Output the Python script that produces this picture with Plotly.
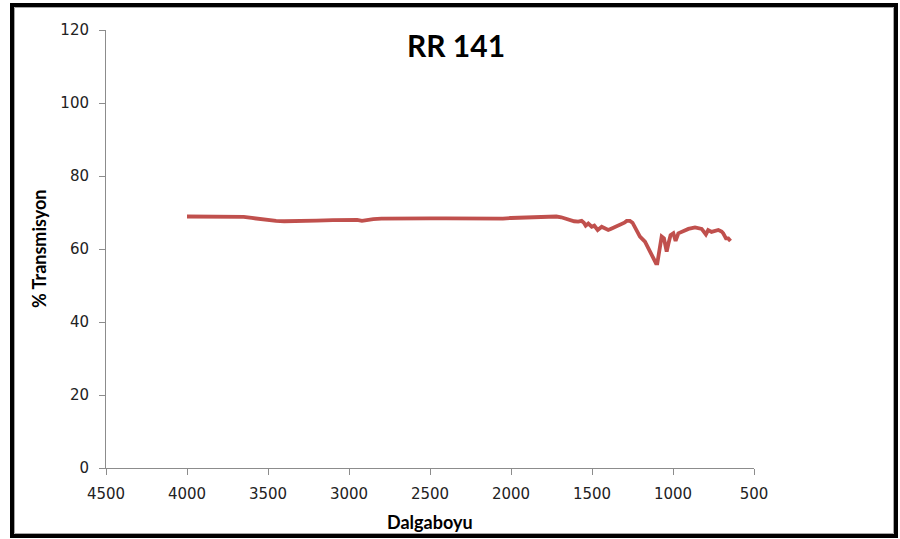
import plotly.graph_objects as go

# FTIR spectrum of sample RR 141
wavenumber = [
    4000, 3900, 3800, 3700, 3650, 3600, 3550, 3500, 3450, 3400,
    3350, 3300, 3200, 3100, 3000, 2950, 2920, 2890, 2850, 2800,
    2700, 2600, 2500, 2400, 2300, 2200, 2150, 2100, 2050, 2000,
    1950, 1900, 1850, 1800, 1750, 1720, 1690, 1660, 1636, 1610,
    1585, 1564, 1550, 1539, 1523, 1502, 1486, 1465, 1440, 1420,
    1400, 1385, 1369, 1338, 1317, 1300, 1286, 1266, 1250, 1235,
    1220, 1204, 1173, 1142, 1120, 1105, 1097, 1085, 1070, 1056,
    1039, 1028, 1015, 998, 984, 967, 950, 936, 905, 864,
    840, 823, 797, 783, 762, 740, 720, 700, 690, 673,
    659, 645,
]
transmission = [
    68.9, 68.9, 69.0, 68.9, 68.8, 68.5, 68.2, 67.9, 67.7, 67.6,
    67.6, 67.7, 67.8, 67.9, 68.1, 68.0, 67.7, 68.0, 68.2, 68.3,
    68.4, 68.4, 68.4, 68.4, 68.4, 68.3, 68.2, 68.4, 68.3, 68.5,
    68.6, 68.6, 68.7, 68.8, 68.9, 68.9, 68.7, 68.2, 67.9, 67.6,
    67.5, 67.7, 67.2, 66.4, 67.0, 66.1, 66.4, 65.2, 66.1, 65.5,
    65.2, 65.5, 65.8, 66.6, 66.8, 67.2, 67.7, 67.7, 67.2, 66.1,
    64.8, 63.4, 62.0, 59.3, 57.5, 56.1, 56.1, 59.0, 63.4, 62.9,
    59.3, 61.5, 63.8, 64.3, 62.2, 64.3, 64.6, 65.0, 65.5, 65.9,
    65.8, 65.5, 64.0, 65.2, 64.7, 65.0, 65.2, 64.8, 64.3, 62.9,
    62.9, 62.2,
]
x_ticks = [4500, 4000, 3500, 3000, 2500, 2000, 1500, 1000, 500]
y_ticks = [0, 20, 40, 60, 80, 100, 120]

W, H = 900, 539
L, R, T, B = 106, 754, 30, 468  # plot area in pixels


def px(x):
    return (x - L) / (R - L)


def py(y):
    return (B - y) / (B - T)


fig = go.Figure()
fig.add_trace(go.Scatter(
    x=wavenumber, y=transmission, mode="lines",
    line=dict(color="#C0504D", width=3.8),
    showlegend=False, hoverinfo="skip",
))

axis_common = dict(
    showgrid=False, zeroline=False, showline=True,
    linecolor="#8C8C8C", linewidth=1,
    ticks="outside", ticklen=6, tickcolor="#8C8C8C",
    tickfont=dict(family="DejaVu Sans", size=15, color="#222222"),
)
fig.update_xaxes(range=[4500, 500], tickvals=x_ticks, ticklabelstandoff=6, **axis_common)
fig.update_yaxes(range=[0, 120], tickvals=y_ticks, ticklabelstandoff=7, **axis_common)

fig.update_layout(
    width=W, height=H,
    margin=dict(l=L, r=W - R, t=T, b=H - B),
    paper_bgcolor="white", plot_bgcolor="white",
    annotations=[
        dict(text="<b>RR 141</b>", x=px(456), y=py(45), xref="paper", yref="paper",
             xanchor="center", yanchor="middle", showarrow=False,
             font=dict(family="Lato", size=30, color="#000000")),
        dict(text="<b>% Transmisyon</b>", x=px(39), y=py(249), xref="paper", yref="paper",
             xanchor="center", yanchor="middle", showarrow=False, textangle=-90,
             font=dict(family="Lato", size=18, color="#000000")),
        dict(text="<b>Dalgaboyu</b>", x=px(430), y=py(522), xref="paper", yref="paper",
             xanchor="center", yanchor="middle", showarrow=False,
             font=dict(family="Lato", size=18, color="#000000")),
    ],
    shapes=[
        # outer black frame
        dict(type="rect", xref="paper", yref="paper",
             x0=px(12), x1=px(896), y0=py(536), y1=py(5),
             line=dict(color="#000000", width=4), layer="below"),
        # thin grey inner edge of the frame
        dict(type="rect", xref="paper", yref="paper",
             x0=px(14.5), x1=px(893.5), y0=py(533.5), y1=py(7.5),
             line=dict(color="#A6A6A6", width=1), layer="below"),
    ],
)

fig.write_html("out.html")
